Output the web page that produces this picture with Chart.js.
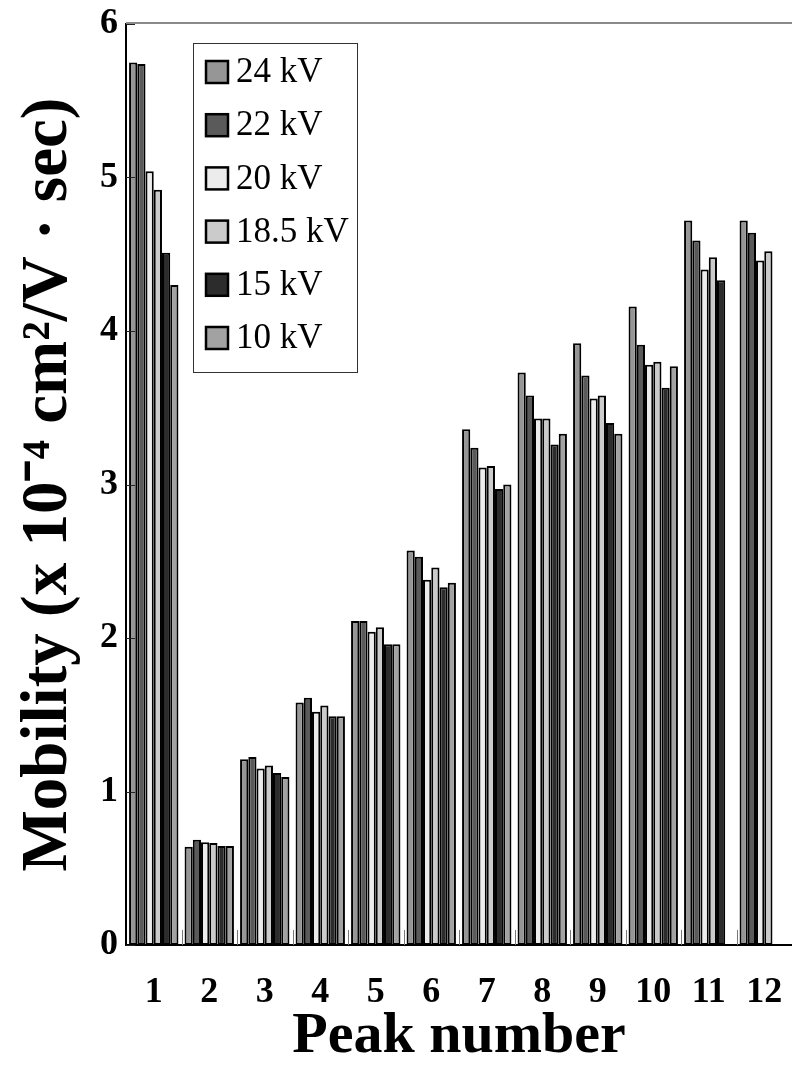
<!DOCTYPE html>
<html>
<head>
<meta charset="utf-8">
<script src="https://cdn.jsdelivr.net/npm/chart.js@4.4.1/dist/chart.umd.min.js"></script>
<style>
  html, body { margin: 0; padding: 0; background: #fff; overflow: hidden; }
  #wrap { width: 792px; height: 1072px; position: relative; }
</style>
</head>
<body>
<div id="wrap"><canvas id="c"></canvas></div>
<script>
// ---- data ----
const categories = ['1','2','3','4','5','6','7','8','9','10','11','12'];
const seriesLabels = ['24 kV','22 kV','20 kV','18.5 kV','15 kV','10 kV'];
const kv24  = [5.75, 0.64, 1.21, 1.58, 2.11, 2.57, 3.36, 3.73, 3.92, 4.16, 4.72, 4.72];
const kv22  = [5.74, 0.685, 1.225, 1.61, 2.11, 2.53, 3.24, 3.58, 3.71, 3.91, 4.59, 4.64];
const kv20  = [5.04, 0.67, 1.15, 1.52, 2.04, 2.38, 3.11, 3.43, 3.56, 3.78, 4.40, 4.46];
const kv185 = [4.92, 0.665, 1.17, 1.56, 2.07, 2.46, 3.12, 3.43, 3.58, 3.80, 4.48, 4.52];
const kv15  = [4.51, 0.645, 1.12, 1.49, 1.96, 2.33, 2.97, 3.26, 3.40, 3.63, 4.33, null];
const kv10  = [4.30, 0.645, 1.095, 1.49, 1.96, 2.36, 3.00, 3.33, 3.33, 3.77, null, null];
const yTicks = [0, 1, 2, 3, 4, 5, 6];

const seriesValues = [kv24, kv22, kv20, kv185, kv15, kv10];
const seriesColors = ['#969696', '#5a5a5a', '#ececec', '#cbcbcb', '#2c2c2c', '#a2a2a2'];

const serif = "'Liberation Serif', 'Times New Roman', serif";

const decorPlugin = {
  id: 'decor',
  afterDatasetsDraw(chart) {
    const {ctx, chartArea: a, scales: {x, y}} = chart;
    ctx.save();
    // top frame line
    ctx.strokeStyle = '#8a8a8a';
    ctx.lineWidth = 2;
    ctx.beginPath();
    ctx.moveTo(a.left, a.top - 1);
    ctx.lineTo(a.right, a.top - 1);
    ctx.stroke();
    // inward y ticks
    ctx.strokeStyle = '#222';
    ctx.lineWidth = 1;
    yTicks.forEach(v => {
      const py = Math.round(y.getPixelForValue(v)) + 0.5;
      ctx.beginPath();
      ctx.moveTo(a.left, py);
      ctx.lineTo(a.left + 9, py);
      ctx.stroke();
    });
    // inward x ticks at category boundaries
    ctx.strokeStyle = '#777';
    const half = (x.getPixelForValue(1) - x.getPixelForValue(0)) / 2;
    for (let i = 1; i < categories.length; i++) {
      const px = Math.round(x.getPixelForValue(i) - half) + 0.5;
      ctx.beginPath();
      ctx.moveTo(px, a.bottom);
      ctx.lineTo(px, a.bottom - 15);
      ctx.stroke();
    }
    ctx.restore();
  },
  afterDraw(chart) {
    const {ctx} = chart;
    const bx = 193, by = 43, bw = 164, bh = 329;
    ctx.save();
    ctx.fillStyle = '#fff';
    ctx.fillRect(bx, by, bw, bh);
    ctx.strokeStyle = '#333';
    ctx.lineWidth = 1;
    ctx.strokeRect(bx + 0.5, by + 0.5, bw, bh);
    ctx.font = "35px " + serif;
    ctx.textBaseline = 'middle';
    ctx.textAlign = 'left';
    chart.data.datasets.forEach((ds, i) => {
      const cy = 72 + i * 53.2;
      ctx.fillStyle = ds.backgroundColor;
      ctx.fillRect(206, cy - 11, 22, 22);
      ctx.strokeStyle = '#000';
      ctx.lineWidth = 2.5;
      ctx.strokeRect(206, cy - 11, 22, 22);
      ctx.fillStyle = '#000';
      ctx.fillText(ds.label, 236, cy + 1);
    });
    ctx.restore();
  }
};

new Chart(document.getElementById('c'), {
  type: 'bar',
  data: {
    labels: categories,
    datasets: seriesLabels.map((lab, i) => ({
      label: lab,
      data: seriesValues[i],
      backgroundColor: seriesColors[i],
      borderColor: '#000',
      borderWidth: 2,
      borderSkipped: false,
      categoryPercentage: 0.89,
      barPercentage: 1.0
    }))
  },
  options: {
    responsive: true,
    maintainAspectRatio: false,
    animation: false,
    layout: { padding: { top: 24, right: 0, left: 0, bottom: 0 } },
    plugins: { legend: { display: false }, tooltip: { enabled: false } },
    scales: {
      x: {
        grid: { display: false, drawTicks: false },
        border: { display: true, color: '#000', width: 2 },
        ticks: { color: '#000', padding: 26, font: { family: serif, size: 36, weight: 'bold' } },
        title: { display: true, text: 'Peak number', color: '#000', padding: { top: 0, bottom: 0 },
                 font: { family: serif, size: 58, weight: 'bold' } },
        afterFit(s) { s.height = 127; s.paddingLeft = 0; s.paddingRight = 0; }
      },
      y: {
        min: 0, max: 6,
        afterBuildTicks(s) { s.ticks = yTicks.map(v => ({ value: v })); },
        grid: { display: false, drawTicks: false },
        border: { display: true, color: '#000', width: 2 },
        ticks: { color: '#000', padding: 8, font: { family: serif, size: 36, weight: 'bold' } },
        title: { display: true, text: 'Mobility (x 10⁻⁴ cm²/V · sec)', color: '#000', padding: { top: 10, bottom: 0 },
                 font: { family: serif, size: 65, weight: 'bold' } },
        afterFit(s) { s.width = 126; s.paddingTop = 0; s.paddingBottom = 0; }
      }
    }
  },
  plugins: [decorPlugin]
});
</script>
</body>
</html>
